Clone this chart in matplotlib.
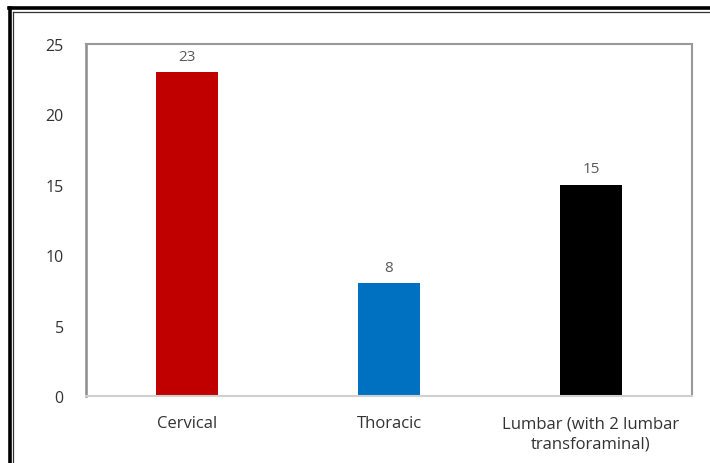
import matplotlib
matplotlib.use('Agg')
import matplotlib.pyplot as plt
from matplotlib.lines import Line2D

categories = ['Cervical', 'Thoracic', 'Lumbar (with 2 lumbar\ntransforaminal)']
counts = [23, 8, 15]
bar_colors = ['#C00000', '#0070C0', '#000000']

TEXT_COLOR = '#595959'
plt.rcParams['font.family'] = ['Open Sans', 'DejaVu Sans']

W, H = 710, 464
fig = plt.figure(figsize=(W / 100, H / 100), dpi=100)
ax = fig.add_axes([86 / W, 1 - 397 / H, (692 - 86) / W, (397 - 45) / H])

x = list(range(len(categories)))
bars = ax.bar(x, counts, width=0.31, color=bar_colors)
for xi, v in zip(x, counts):
    ax.text(xi, v + 0.6, str(v), ha='center', va='bottom',
            fontsize=11, color=TEXT_COLOR)

ax.set_xlim(-0.5, len(categories) - 0.5)
ax.set_ylim(0, 25)
ax.set_yticks([0, 5, 10, 15, 20, 25])
ax.set_xticks(x)
ax.set_xticklabels(categories, fontsize=12, color='#333333', linespacing=1.35)
ax.tick_params(axis='y', labelsize=11.5, labelcolor='#333333', length=0, pad=16)
ax.tick_params(axis='x', length=0, pad=14)

for side in ['top', 'right']:
    ax.spines[side].set_color('#999999')
    ax.spines[side].set_linewidth(1.5)
ax.spines['left'].set_color('#8c8c8c')
ax.spines['left'].set_linewidth(1.8)
ax.spines['bottom'].set_color('#d0d0d0')
ax.spines['bottom'].set_linewidth(1.5)

# double frame around the figure (left and top edges visible)
def fig_line(xs, ys, lw, color):
    fig.add_artist(Line2D([px / W for px in xs], [1 - py / H for py in ys],
                          transform=fig.transFigure, lw=lw, color=color))

fig_line([9.5, 9.5], [9, H], 2.6, 'black')
fig_line([9, W], [9, 9], 2.6, 'black')
fig_line([13, 13], [12.5, H], 0.9, '#333333')
fig_line([12.5, W], [12.5, 12.5], 0.9, '#333333')

fig.savefig('out.png', dpi=100)
